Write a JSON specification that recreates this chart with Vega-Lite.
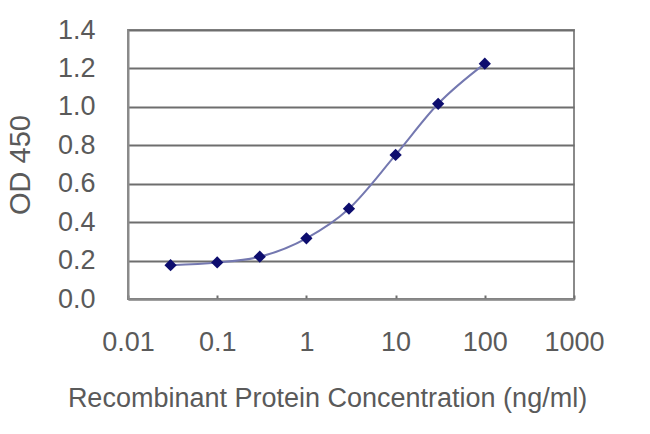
{
  "$schema": "https://vega.github.io/schema/vega-lite/v6.json",
  "width": 446,
  "height": 269,
  "autosize": "none",
  "padding": {"left": 128, "top": 30, "right": 76, "bottom": 135},
  "background": "white",
  "config": {
    "view": {"stroke": "#8a8a8a", "strokeWidth": 2},
    "font": "Liberation Sans"
  },
  "data": {
    "values": [
      {"conc": 0.03, "od": 0.176},
      {"conc": 0.1, "od": 0.19},
      {"conc": 0.3, "od": 0.22},
      {"conc": 1, "od": 0.316},
      {"conc": 3, "od": 0.47},
      {"conc": 10, "od": 0.75},
      {"conc": 30, "od": 1.016},
      {"conc": 100, "od": 1.225}
    ]
  },
  "encoding": {
    "x": {
      "field": "conc",
      "type": "quantitative",
      "scale": {"type": "log", "domain": [0.01, 1000]},
      "axis": {
        "values": [0.01, 0.1, 1, 10, 100, 1000],
        "format": "~g",
        "grid": false,
        "labelFlush": false,
        "labelOverlap": false,
        "labelBound": false,
        "title": "Recombinant Protein Concentration (ng/ml)",
        "titleFont": "Liberation Sans",
        "titleFontWeight": "normal",
        "titleFontSize": 27,
        "titleColor": "#5a5a5a",
        "titleX": 199,
        "titleY": 107,
        "titleBaseline": "alphabetic",
        "labelFontSize": 27,
        "labelColor": "#5a5a5a",
        "labelPadding": 34,
        "tickSize": -4,
        "tickColor": "#6e6e6e",
        "tickWidth": 2,
        "domainColor": "#8a8a8a",
        "domainWidth": 2
      }
    },
    "y": {
      "field": "od",
      "type": "quantitative",
      "scale": {"domain": [0, 1.4]},
      "axis": {
        "values": [0, 0.2, 0.4, 0.6, 0.8, 1.0, 1.2, 1.4],
        "format": ".1f",
        "grid": true,
        "gridColor": "#6e6e6e",
        "gridWidth": 2,
        "ticks": false,
        "title": "OD 450",
        "titleFont": "Liberation Sans",
        "titleFontWeight": "normal",
        "titleFontSize": 29,
        "titleColor": "#5a5a5a",
        "titlePadding": 22,
        "labelFontSize": 27,
        "labelColor": "#5a5a5a",
        "labelPadding": 33,
        "domainColor": "#8a8a8a",
        "domainWidth": 2
      }
    }
  },
  "layer": [
    {
      "mark": {"type": "line", "interpolate": "monotone", "color": "#7478b0", "strokeWidth": 2}
    },
    {
      "mark": {"type": "point", "shape": "diamond", "filled": true, "color": "#0d0d6e", "opacity": 1, "size": 150}
    }
  ]
}
